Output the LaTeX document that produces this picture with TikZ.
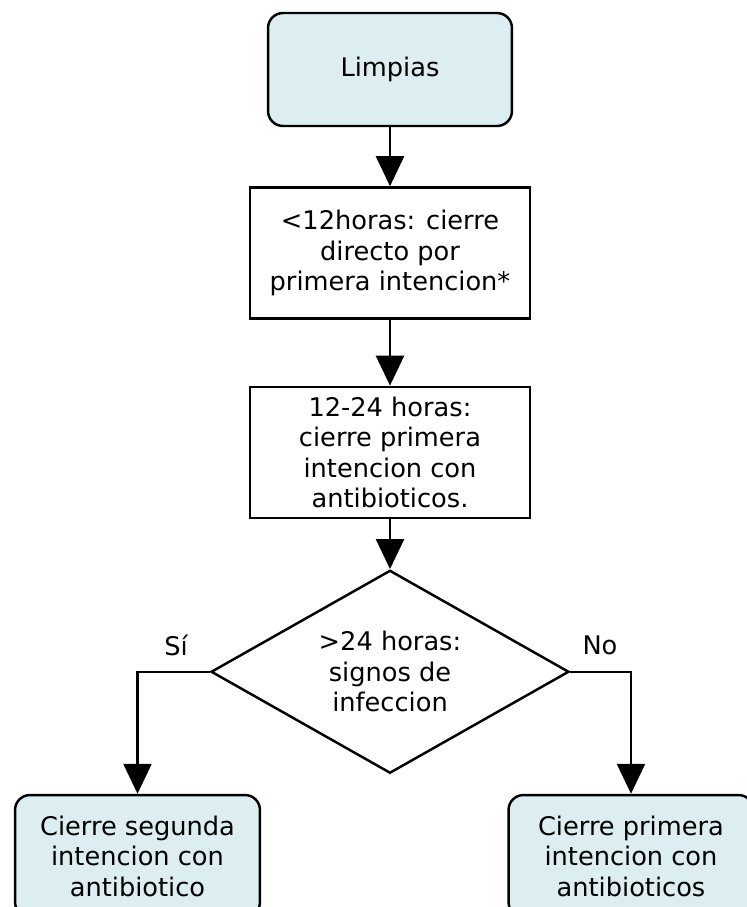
\documentclass[tikz,border=0pt]{standalone}
\usepackage{fontspec}
\setmainfont{DejaVu Sans}
\usetikzlibrary{shapes.geometric, arrows.meta, positioning}

\definecolor{limpio}{RGB}{220,238,241}

\begin{document}
\begin{tikzpicture}[x=0.02cm, y=-0.02cm, line width=1.4pt,
    font=\fontsize{14.6}{17.4}\selectfont,
    caja/.style={draw, align=center, inner sep=0pt, minimum width=5.6cm, minimum height=2.62cm},
    extremo/.style={draw, fill=limpio, rounded corners=0.3cm, align=center, inner sep=0pt, minimum width=4.9cm, minimum height=2.44cm},
    flecha/.style={-{Triangle[width=0.56cm, length=0.6cm]}}]
        \useasboundingbox (0,0) rectangle (747,907);
        \clip (0,0) rectangle (747,907);
        \node[extremo, minimum width=4.88cm, minimum height=2.26cm] (limpias) at (390,69.5) {Limpias};
        \node[caja, below=1.18cm of limpias] (corto) {<12horas: cierre\\directo por\\primera intencion*};
        \node[caja, below=1.32cm of corto] (medio) {12-24 horas:\\cierre primera\\intencion con\\antibioticos.};
        \node[draw, diamond, aspect=1.76, inner sep=0pt, minimum width=7.16cm, minimum height=4.06cm, align=center, below=1.0cm of medio] (signos) {>24 horas:\\signos de\\infeccion};
        \node[extremo] (segunda) at (137.5,856) {Cierre segunda\\intencion con\\antibiotico};
        \node[extremo] (primera) at (631,856) {Cierre primera\\intencion con\\antibioticos};
        \node (si) at (176,645) {Sí};
        \node (no) at (600,645) {No};

        \draw[flecha] (limpias) -- (corto);
        \draw[flecha] (corto) -- (medio);
        \draw[flecha] (medio) -- (signos);
        \draw[flecha] (signos.west) -| (segunda.north);
        \draw[flecha] (signos.east) -| (primera.north);
    \end{tikzpicture}
\end{document}
